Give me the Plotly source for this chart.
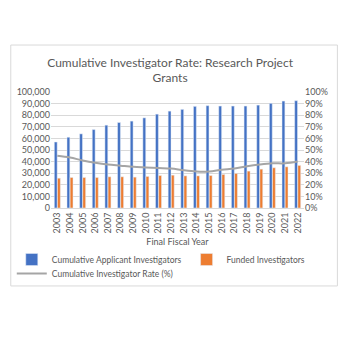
import plotly.graph_objects as go

years = [str(y) for y in range(2003, 2023)]
applicants = [56900, 61000, 63900, 67600, 71400, 73700, 74900, 77700, 80900, 83500,
              85000, 87600, 88200, 87900, 87900, 87900, 88700, 90200, 92200, 92500]
funded = [25700, 26300, 26300, 26300, 26900, 26900, 26600, 27200, 28000, 28300,
          27700, 27700, 28000, 28900, 29800, 31800, 33500, 34700, 35500, 36700]
rate = [45.0, 43.5, 41.0, 39.0, 37.5, 36.5, 35.5, 35.0, 34.5, 34.0,
        32.5, 31.5, 31.5, 33.0, 34.0, 36.0, 37.5, 38.5, 38.5, 40.0]

grey = "#595959"
fnt = "Lato"

fig = go.Figure()
fig.add_trace(go.Bar(x=years, y=applicants, name="Cumulative Applicant Investigators",
                     marker_color="#4472C4", legend="legend"))
fig.add_trace(go.Bar(x=years, y=funded, name="Funded Investigators",
                     marker_color="#ED7D31", legend="legend"))
fig.add_trace(go.Scatter(x=years, y=rate, name="Cumulative Investigator Rate (%)",
                         mode="lines", line=dict(color="#A5A5A5", width=2, shape="spline"),
                         yaxis="y2", legend="legend2"))

leg_common = dict(orientation="h", x=-0.155, xanchor="left", yanchor="top",
                  font=dict(size=8.5, color=grey), itemwidth=30, tracegroupgap=0,
                  bgcolor="rgba(0,0,0,0)")

fig.update_layout(
    width=350, height=350,
    margin=dict(l=45, r=46, t=92, b=142),
    paper_bgcolor="white", plot_bgcolor="white",
    font=dict(family=fnt, size=9, color=grey),
    title=dict(text="Cumulative Investigator Rate: Research Project<br>Grants",
               x=0.486, xanchor="center", y=0.81, yanchor="top",
               font=dict(family=fnt, size=12, color=grey)),
    barmode="group", bargap=0.5, bargroupgap=0.1,
    xaxis=dict(tickangle=-90, showgrid=False, showline=True, linecolor="#D9D9D9",
               ticks="", tickfont=dict(size=9, color=grey),
               title=dict(text="Final Fiscal Year", standoff=6,
                          font=dict(size=9, color=grey))),
    yaxis=dict(range=[0, 100000], dtick=10000, tickformat=",", showgrid=True,
               gridcolor="#D9D9D9", zeroline=False, ticks="",
               tickfont=dict(size=9, color=grey)),
    yaxis2=dict(range=[0, 100], dtick=10, ticksuffix="%", overlaying="y", side="right",
                showgrid=False, zeroline=False, ticks="",
                tickfont=dict(size=9, color=grey)),
    legend=dict(y=-0.319, **leg_common),
    legend2=dict(y=-0.44, **leg_common),
    showlegend=True,
)
fig.add_shape(type="rect", xref="paper", yref="paper", x0=-0.159, x1=1.132,
              y0=-0.672, y1=1.405, line=dict(color="#D9D9D9", width=1), layer="below")

fig.write_html("out.html")
